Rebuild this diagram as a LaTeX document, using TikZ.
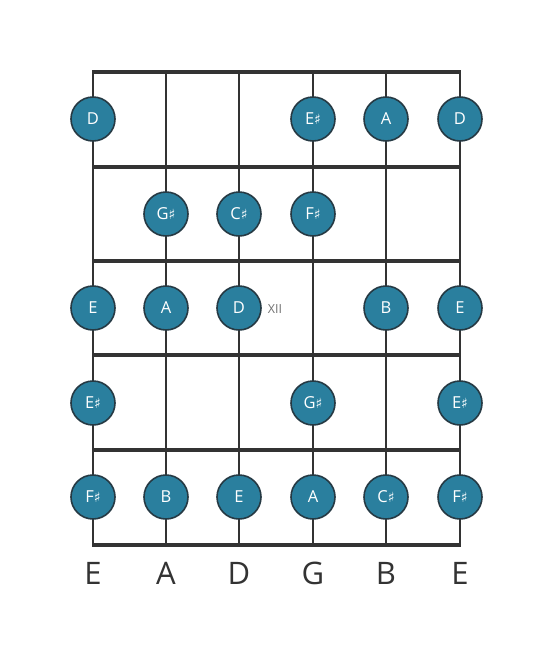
\documentclass[tikz,border=0pt]{standalone}
\usepackage{fontspec}
\setmainfont{Open Sans}
\newfontfamily\symfont{DejaVu Sans}
\begin{document}
\begin{tikzpicture}[x=1pt,y=-1pt,
  fretline/.style={line width=4pt,draw=black!80},
  strline/.style={line width=2pt,draw=black!80},
  notecirc/.style={circle,minimum size=44pt,inner sep=0pt,fill=notefill,draw=noteedge,line width=1.6pt,text=white,font=\fontsize{16.5}{16.5}\selectfont},
  strlabel/.style={font=\fontsize{31}{31}\selectfont,text=black!80},
  fretnum/.style={font=\fontsize{12.5}{12.5}\selectfont,text=black!55}]
\definecolor{notefill}{HTML}{2A7F9E}
\definecolor{noteedge}{HTML}{263A44}
\useasboundingbox (0,0) rectangle (553,656);
\fill[white] (0,0) rectangle (553,656);
% strings
\foreach \x [count=\i] in {93,166,239,313,386,460}{
  \coordinate (st\i) at (\x,72);
  \coordinate (sb\i) at (\x,545);
  \draw[strline] (st\i) -- (sb\i);
}
% frets
\foreach \y [count=\j] in {72,167,261,355,450,545}{
  \coordinate (fl\j) at (92,\y);
  \coordinate (fr\j) at (461,\y);
  \draw[fretline] (fl\j) -- (fr\j);
}
\newcommand{\sh}{{\symfont\fontsize{14}{14}\selectfont ♯}}
% row 1
\node[notecirc] (n11) at (93,119) {D};
\node[notecirc] (n14) at (313,119) {E\sh};
\node[notecirc] (n15) at (386,119) {A};
\node[notecirc] (n16) at (460,119) {D};
% row 2
\node[notecirc] (n22) at (166,214) {G\sh};
\node[notecirc] (n23) at (239,214) {C\sh};
\node[notecirc] (n24) at (313,214) {F\sh};
% row 3
\node[notecirc] (n31) at (93,308) {E};
\node[notecirc] (n32) at (166,308) {A};
\node[notecirc] (n33) at (239,308) {D};
\node[notecirc] (n35) at (386,308) {B};
\node[notecirc] (n36) at (460,308) {E};
\node[fretnum] (xii) at (275,309) {XII};
% row 4
\node[notecirc] (n41) at (93,403) {E\sh};
\node[notecirc] (n44) at (313,403) {G\sh};
\node[notecirc] (n46) at (460,403) {E\sh};
% row 5
\node[notecirc] (n51) at (93,497) {F\sh};
\node[notecirc] (n52) at (166,497) {B};
\node[notecirc] (n53) at (239,497) {E};
\node[notecirc] (n54) at (313,497) {A};
\node[notecirc] (n55) at (386,497) {C\sh};
\node[notecirc] (n56) at (460,497) {F\sh};
% string names
\foreach \x/\t [count=\i] in {93/E,166/A,239/D,313/G,386/B,460/E}{
  \node[strlabel] (lab\i) at (\x,573) {\t};
}
\end{tikzpicture}
\end{document}
